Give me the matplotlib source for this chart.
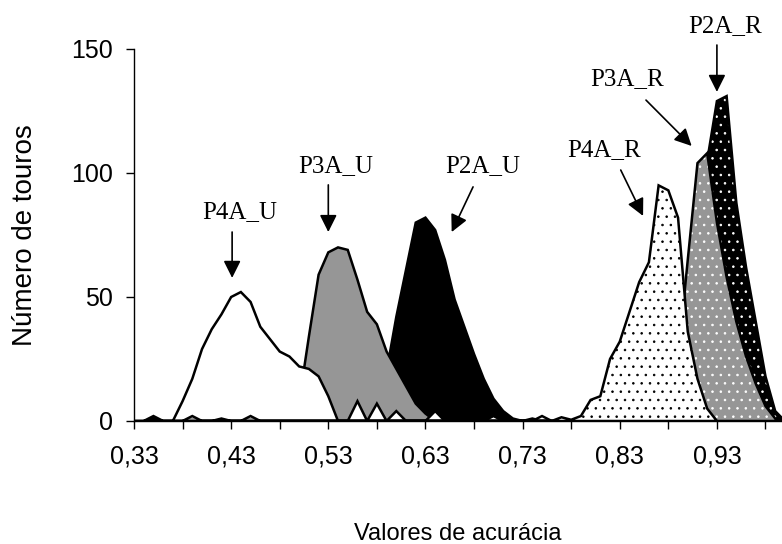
import numpy as np
import matplotlib
matplotlib.use("Agg")
import matplotlib.pyplot as plt

plt.rcParams["hatch.linewidth"] = 0.6

# accuracy classes (x) and number of bulls (y) for each scenario
x_p4a_u = [0.33, 0.34, 0.35, 0.36, 0.37, 0.38, 0.39, 0.40, 0.41, 0.42, 0.43, 0.44,
           0.45, 0.46, 0.47, 0.48, 0.49, 0.50, 0.51, 0.52, 0.53, 0.54, 0.55, 0.56,
           0.57, 0.58, 0.59, 0.60, 0.61, 0.62, 0.63, 0.64, 0.65, 0.69, 0.70, 0.71,
           0.74, 0.75, 0.76]
y_p4a_u = [0, 0, 0, 0, 0, 8, 17, 29, 37, 43, 50, 52,
           48, 38, 33, 28, 26, 22, 21, 18, 10, 0, 0, 8,
           0, 7, 0, 4, 0, 0, 0, 4, 0, 0, 2, 0,
           0, 2, 0]

x_p3a_u = [0.48, 0.49, 0.50, 0.51, 0.52, 0.53, 0.54, 0.55, 0.56, 0.57, 0.58, 0.59,
           0.60, 0.61, 0.62, 0.63, 0.64]
y_p3a_u = [0, 0, 8, 34, 59, 68, 70, 69, 57, 44, 39, 28,
           21, 14, 7, 3, 0]

x_p2a_u = [0.57, 0.58, 0.59, 0.60, 0.61, 0.62, 0.63, 0.64, 0.65, 0.66, 0.67, 0.68,
           0.69, 0.70, 0.71, 0.72, 0.73, 0.74, 0.75]
y_p2a_u = [0, 3, 20, 42, 61, 80, 82, 77, 65, 49, 38, 27,
           17, 9, 4, 1, 0, 1, 0]

x_p4a_r = [0.76, 0.77, 0.78, 0.79, 0.80, 0.81, 0.82, 0.83, 0.84, 0.85, 0.86, 0.87,
           0.88, 0.89, 0.90, 0.91, 0.92, 0.93]
y_p4a_r = [0, 1.5, 0.5, 2, 8.5, 10, 25, 32, 44, 56, 64, 95,
           93, 82, 36, 17, 5, 0]

x_p3a_r = [0.38, 0.39, 0.40, 0.44, 0.45, 0.46, 0.87, 0.88, 0.89, 0.90, 0.91, 0.92,
           0.93, 0.94, 0.95, 0.96, 0.97, 0.98, 0.99, 1.00]
y_p3a_r = [0, 2, 0, 0, 2, 0, 0, 5, 25, 65, 104, 108,
           80, 58, 40, 26, 15, 6, 1, 0]

x_p2a_r = [0.34, 0.35, 0.36, 0.41, 0.42, 0.43, 0.88, 0.89, 0.90, 0.91, 0.92, 0.93,
           0.94, 0.95, 0.96, 0.97, 0.98, 0.99, 1.00]
y_p2a_r = [0, 2, 0, 0, 1, 0, 0, 3, 20, 60, 105, 129,
           131, 88, 62, 40, 18, 4, 0]

x_ticks = [0.33, 0.43, 0.53, 0.63, 0.73, 0.83, 0.93]
x_tick_labels = ["0,33", "0,43", "0,53", "0,63", "0,73", "0,83", "0,93"]
x_minor_ticks = [0.38, 0.48, 0.58, 0.68, 0.78, 0.88, 0.98]
y_ticks = [0, 50, 100, 150]

# (x, y, face colour, dot colour or None), drawn back to front
series = [
    (x_p2a_u, y_p2a_u, "black", None),
    (x_p3a_u, y_p3a_u, "#969696", None),
    (x_p4a_u, y_p4a_u, "white", None),
    (x_p2a_r, y_p2a_r, "black", "white"),
    (x_p3a_r, y_p3a_r, "#969696", "white"),
    (x_p4a_r, y_p4a_r, "white", "black"),
]

# label text, text position, arrow start, arrow tip (data units)
labels = [
    ("P4A_U", (0.439, 84.3), (0.431, 76.2), (0.431, 57.7)),
    ("P3A_U", (0.538, 102.8), (0.530, 95.2), (0.530, 76.2)),
    ("P2A_U", (0.689, 102.8), (0.679, 94.4), (0.657, 76.2)),
    ("P4A_R", (0.814, 109.3), (0.831, 101.2), (0.854, 82.7)),
    ("P3A_R", (0.838, 137.9), (0.857, 129.4), (0.904, 110.9)),
    ("P2A_R", (0.938, 159.3), (0.930, 151.6), (0.930, 132.7)),
]

fig = plt.figure(figsize=(7.82, 5.44), dpi=100)
ax = fig.add_axes([134 / 782, 123 / 544, 648 / 782, 372 / 544])

for z, (xs, ys, face, dots) in enumerate(series):
    ax.fill(xs, ys, facecolor=face, edgecolor="none", zorder=2 + z)
    if dots is not None:
        ax.fill(xs, ys, facecolor="none", edgecolor=dots, hatch="..",
                linewidth=0, zorder=2 + z)
    ax.fill(xs, ys, facecolor="none", edgecolor="black", linewidth=1.8,
            joinstyle="miter", zorder=2 + z)

for text, txy, start, tip in labels:
    ax.text(txy[0], txy[1], text, ha="center", va="center",
            family="Liberation Serif", fontsize=18)
    ax.annotate("", xy=tip, xytext=start,
                arrowprops=dict(arrowstyle="-|>", color="black", lw=1.2,
                                mutation_scale=26, shrinkA=0, shrinkB=0))

ax.set_xlim(0.33, 0.997)
ax.set_ylim(0, 150)
ax.set_xticks(x_ticks)
ax.set_xticklabels(x_tick_labels)
ax.set_xticks(x_minor_ticks, minor=True)
ax.set_yticks(y_ticks)

for side in ["top", "right"]:
    ax.spines[side].set_visible(False)
for side in ["left", "bottom"]:
    ax.spines[side].set_linewidth(1.0)
    ax.spines[side].set_zorder(10)

ax.tick_params(axis="both", which="both", direction="out", length=6,
               width=1.0, labelsize=18, labelfontfamily="Liberation Sans")
ax.tick_params(axis="x", pad=11)
ax.tick_params(axis="y", pad=9)

ax.set_xlabel("Valores de acurácia", family="Liberation Sans", fontsize=17)
ax.set_ylabel("Número de touros", family="Liberation Sans", fontsize=20)
ax.xaxis.set_label_coords(0.5, -0.275)
ax.yaxis.set_label_coords(-0.148, 0.5)

fig.savefig("out.png", dpi=100)
